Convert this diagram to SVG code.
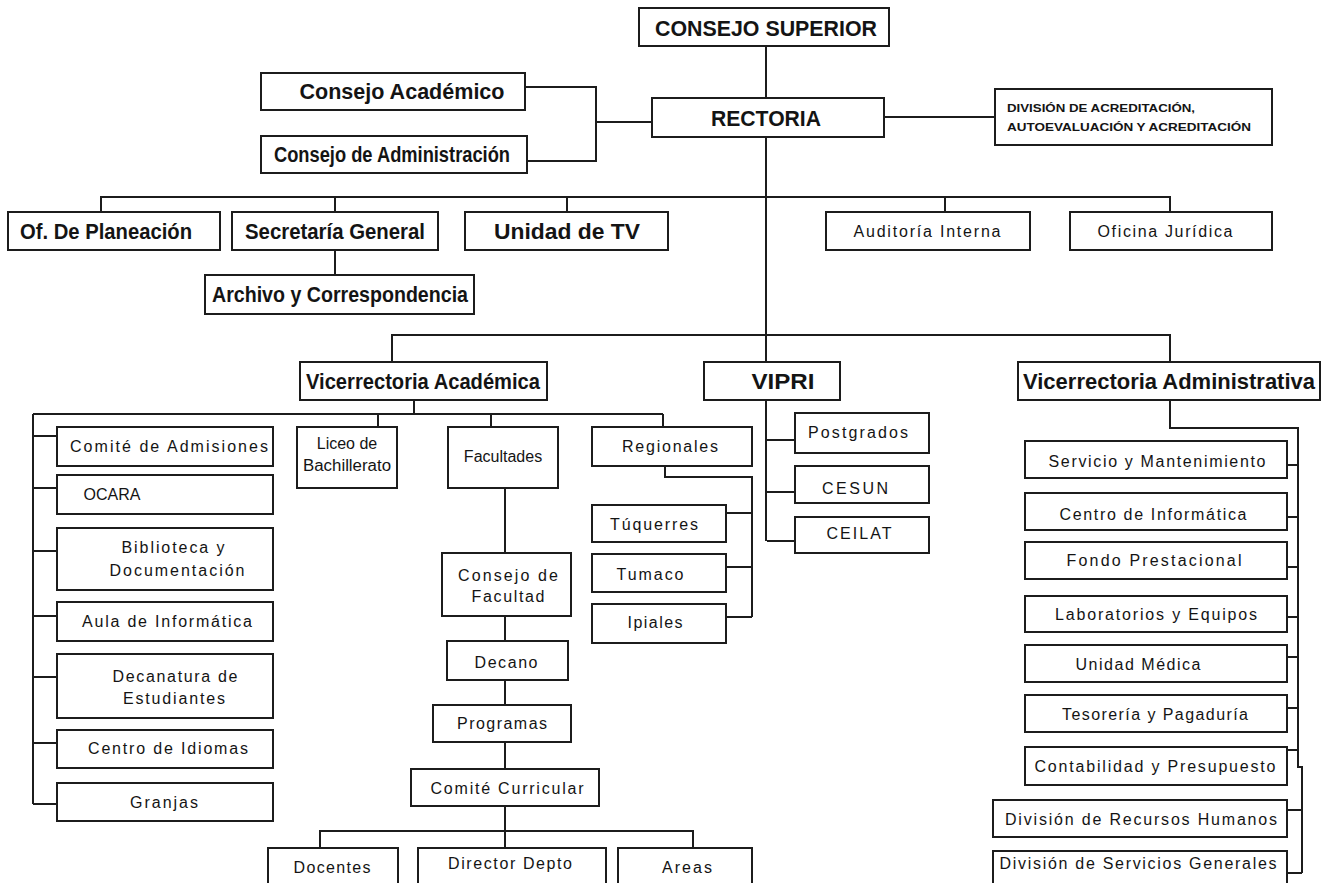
<svg xmlns="http://www.w3.org/2000/svg" width="1328" height="883" viewBox="0 0 1328 883">
<style>
.b{fill:#fff;stroke:#1c1c1c;stroke-width:2}
.c{fill:none;stroke:#1c1c1c;stroke-width:2}
text{font-family:"Liberation Sans",Arial,sans-serif;fill:#141414;text-anchor:middle}
.h{font-size:22px;font-weight:bold}
.r{font-size:16px}
.d{font-size:10.5px;font-weight:bold;text-anchor:start}
</style>
<rect width="1328" height="883" fill="#fff"/>
<g id="connectors">
<path class="c" d="M766 46V367M766 400V541"/>
<path class="c" d="M884 117H995"/>
<path class="c" d="M525 87H596V161H527M596 122H652"/>
<path class="c" d="M101 212V197H1170V212M335 197V212M567 197V212M945 197V212"/>
<path class="c" d="M335 250V275"/>
<path class="c" d="M392 362V335H1170V362"/>
<path class="c" d="M414 400V414M33 414H663M378 414V427M491 414V427M663 414V427"/>
<path class="c" d="M33 414V804M33 436H57M33 488H57M33 551H57M33 616H57M33 677H57M33 743H57M33 804H57"/>
<path class="c" d="M665 466V477H752V617M726 513H752M726 567H752M726 617H752"/>
<path class="c" d="M767 440H795M767 492H795M767 541H795"/>
<path class="c" d="M505 488V553M505 616V641M505 680V705M505 742V769M505 806V848M320 848V831H693V848"/>
<path class="c" d="M1170 400V428H1298V767H1302V873M1287 465H1298M1287 517H1298M1287 567H1298M1287 617H1298M1287 657H1298M1287 708H1298M1287 750H1298M1287 810H1302M1287 873H1302"/>
</g>
<g id="n-consejo-superior"><rect class="b" x="639" y="8" width="250" height="38"/><text class="h" x="766" y="36" textLength="222" lengthAdjust="spacingAndGlyphs">CONSEJO SUPERIOR</text></g>
<g id="n-rectoria"><rect class="b" x="652" y="98" width="232" height="39"/><text class="h" x="766" y="126" textLength="110" lengthAdjust="spacingAndGlyphs">RECTORIA</text></g>
<g id="n-division"><rect class="b" x="995" y="89" width="277" height="56"/><text class="d" x="1007" y="112" textLength="188" lengthAdjust="spacingAndGlyphs">DIVISIÓN DE ACREDITACIÓN,</text><text class="d" x="1007" y="131" textLength="244" lengthAdjust="spacingAndGlyphs">AUTOEVALUACIÓN Y ACREDITACIÓN</text></g>
<g id="n-consejo-academico"><rect class="b" x="261" y="73" width="264" height="37"/><text class="h" x="402" y="99" textLength="205" lengthAdjust="spacingAndGlyphs">Consejo Académico</text></g>
<g id="n-consejo-admin"><rect class="b" x="261" y="136" width="266" height="37"/><text class="h" x="392" y="162" textLength="236" lengthAdjust="spacingAndGlyphs">Consejo de Administración</text></g>
<g id="n-planeacion"><rect class="b" x="8" y="212" width="212" height="38"/><text class="h" x="106" y="239" textLength="172" lengthAdjust="spacingAndGlyphs">Of. De Planeación</text></g>
<g id="n-secretaria"><rect class="b" x="232" y="212" width="206" height="38"/><text class="h" x="335" y="239" textLength="180" lengthAdjust="spacingAndGlyphs">Secretaría General</text></g>
<g id="n-tv"><rect class="b" x="465" y="212" width="203" height="38"/><text class="h" x="567" y="239" textLength="146" lengthAdjust="spacingAndGlyphs">Unidad de TV</text></g>
<g id="n-auditoria"><rect class="b" x="826" y="212" width="204" height="38"/><text class="r" x="927" y="237" textLength="147">Auditoría Interna</text></g>
<g id="n-juridica"><rect class="b" x="1070" y="212" width="202" height="38"/><text class="r" x="1165" y="237" textLength="135">Oficina Jurídica</text></g>
<g id="n-archivo"><rect class="b" x="205" y="275" width="269" height="39"/><text class="h" x="340" y="302" textLength="256" lengthAdjust="spacingAndGlyphs">Archivo y Correspondencia</text></g>
<g id="n-vacad"><rect class="b" x="300" y="362" width="247" height="38"/><text class="h" x="423" y="389" textLength="234" lengthAdjust="spacingAndGlyphs">Vicerrectoria Académica</text></g>
<g id="n-vipri"><rect class="b" x="704" y="362" width="136" height="38"/><text class="h" x="783" y="389" textLength="63" lengthAdjust="spacingAndGlyphs">VIPRI</text></g>
<g id="n-vadmin"><rect class="b" x="1018" y="362" width="302" height="38"/><text class="h" x="1169" y="389" textLength="292" lengthAdjust="spacingAndGlyphs">Vicerrectoria Administrativa</text></g>
<g id="n-admisiones"><rect class="b" x="57" y="427" width="216" height="39"/><text class="r" x="169" y="452" textLength="198">Comité de Admisiones</text></g>
<g id="n-ocara"><rect class="b" x="57" y="475" width="216" height="39"/><text class="r" x="112" y="500">OCARA</text></g>
<g id="n-biblioteca"><rect class="b" x="57" y="528" width="216" height="62"/><text class="r" x="173" y="553" textLength="103">Biblioteca y</text><text class="r" x="177" y="576" textLength="135">Documentación</text></g>
<g id="n-aula"><rect class="b" x="57" y="602" width="216" height="39"/><text class="r" x="167" y="627" textLength="170">Aula de Informática</text></g>
<g id="n-decanatura"><rect class="b" x="57" y="654" width="216" height="64"/><text class="r" x="175" y="682" textLength="125">Decanatura de</text><text class="r" x="174" y="704" textLength="102">Estudiantes</text></g>
<g id="n-idiomas"><rect class="b" x="57" y="730" width="216" height="38"/><text class="r" x="168" y="754" textLength="160">Centro de Idiomas</text></g>
<g id="n-granjas"><rect class="b" x="57" y="783" width="216" height="38"/><text class="r" x="164" y="808" textLength="68">Granjas</text></g>
<g id="n-liceo"><rect class="b" x="297" y="427" width="100" height="61"/><text class="r" x="347" y="449">Liceo de</text><text class="r" x="347" y="471" textLength="88" lengthAdjust="spacingAndGlyphs">Bachillerato</text></g>
<g id="n-facultades"><rect class="b" x="448" y="427" width="110" height="61"/><text class="r" x="503" y="462">Facultades</text></g>
<g id="n-regionales"><rect class="b" x="592" y="427" width="160" height="39"/><text class="r" x="670" y="452" textLength="96">Regionales</text></g>
<g id="n-tuquerres"><rect class="b" x="592" y="505" width="134" height="37"/><text class="r" x="654" y="530" textLength="88">Túquerres</text></g>
<g id="n-tumaco"><rect class="b" x="592" y="554" width="134" height="38"/><text class="r" x="650" y="580" textLength="67">Tumaco</text></g>
<g id="n-ipiales"><rect class="b" x="592" y="604" width="134" height="39"/><text class="r" x="655" y="628" textLength="55">Ipiales</text></g>
<g id="n-postgrados"><rect class="b" x="795" y="413" width="134" height="40"/><text class="r" x="858" y="438" textLength="100">Postgrados</text></g>
<g id="n-cesun"><rect class="b" x="795" y="466" width="134" height="37"/><text class="r" x="855" y="494" textLength="66">CESUN</text></g>
<g id="n-ceilat"><rect class="b" x="795" y="517" width="134" height="36"/><text class="r" x="859" y="539" textLength="65">CEILAT</text></g>
<g id="n-consejo-facultad"><rect class="b" x="442" y="553" width="129" height="63"/><text class="r" x="508" y="581" textLength="100">Consejo de</text><text class="r" x="508" y="602" textLength="73">Facultad</text></g>
<g id="n-decano"><rect class="b" x="447" y="641" width="121" height="39"/><text class="r" x="506" y="668" textLength="63">Decano</text></g>
<g id="n-programas"><rect class="b" x="433" y="705" width="138" height="37"/><text class="r" x="502" y="729" textLength="90">Programas</text></g>
<g id="n-comite-curricular"><rect class="b" x="411" y="769" width="188" height="37"/><text class="r" x="507" y="794" textLength="153">Comité Curricular</text></g>
<g id="n-docentes"><rect class="b" x="268" y="848" width="130" height="50"/><text class="r" x="332" y="873" textLength="77">Docentes</text></g>
<g id="n-director"><rect class="b" x="418" y="848" width="188" height="50"/><text class="r" x="510" y="869" textLength="124">Director Depto</text></g>
<g id="n-areas"><rect class="b" x="618" y="848" width="134" height="50"/><text class="r" x="687" y="873" textLength="50">Areas</text></g>
<g id="n-servicio"><rect class="b" x="1025" y="441" width="262" height="37"/><text class="r" x="1157" y="467" textLength="217">Servicio y Mantenimiento</text></g>
<g id="n-informatica"><rect class="b" x="1025" y="493" width="262" height="37"/><text class="r" x="1153" y="520" textLength="187">Centro de Informática</text></g>
<g id="n-fondo"><rect class="b" x="1025" y="542" width="262" height="37"/><text class="r" x="1154" y="566" textLength="175">Fondo Prestacional</text></g>
<g id="n-laboratorios"><rect class="b" x="1025" y="596" width="262" height="36"/><text class="r" x="1156" y="620" textLength="202">Laboratorios y Equipos</text></g>
<g id="n-medica"><rect class="b" x="1025" y="645" width="262" height="37"/><text class="r" x="1138" y="670" textLength="125">Unidad Médica</text></g>
<g id="n-tesoreria"><rect class="b" x="1025" y="695" width="262" height="37"/><text class="r" x="1155" y="720" textLength="186">Tesorería y Pagaduría</text></g>
<g id="n-contabilidad"><rect class="b" x="1025" y="747" width="262" height="38"/><text class="r" x="1155" y="772" textLength="241">Contabilidad y Presupuesto</text></g>
<g id="n-rrhh"><rect class="b" x="993" y="800" width="294" height="37"/><text class="r" x="1141" y="825" textLength="272">División de Recursos Humanos</text></g>
<g id="n-servicios-generales"><rect class="b" x="993" y="851" width="294" height="45"/><text class="r" x="1138" y="869" textLength="277">División de Servicios Generales</text></g>
</svg>
